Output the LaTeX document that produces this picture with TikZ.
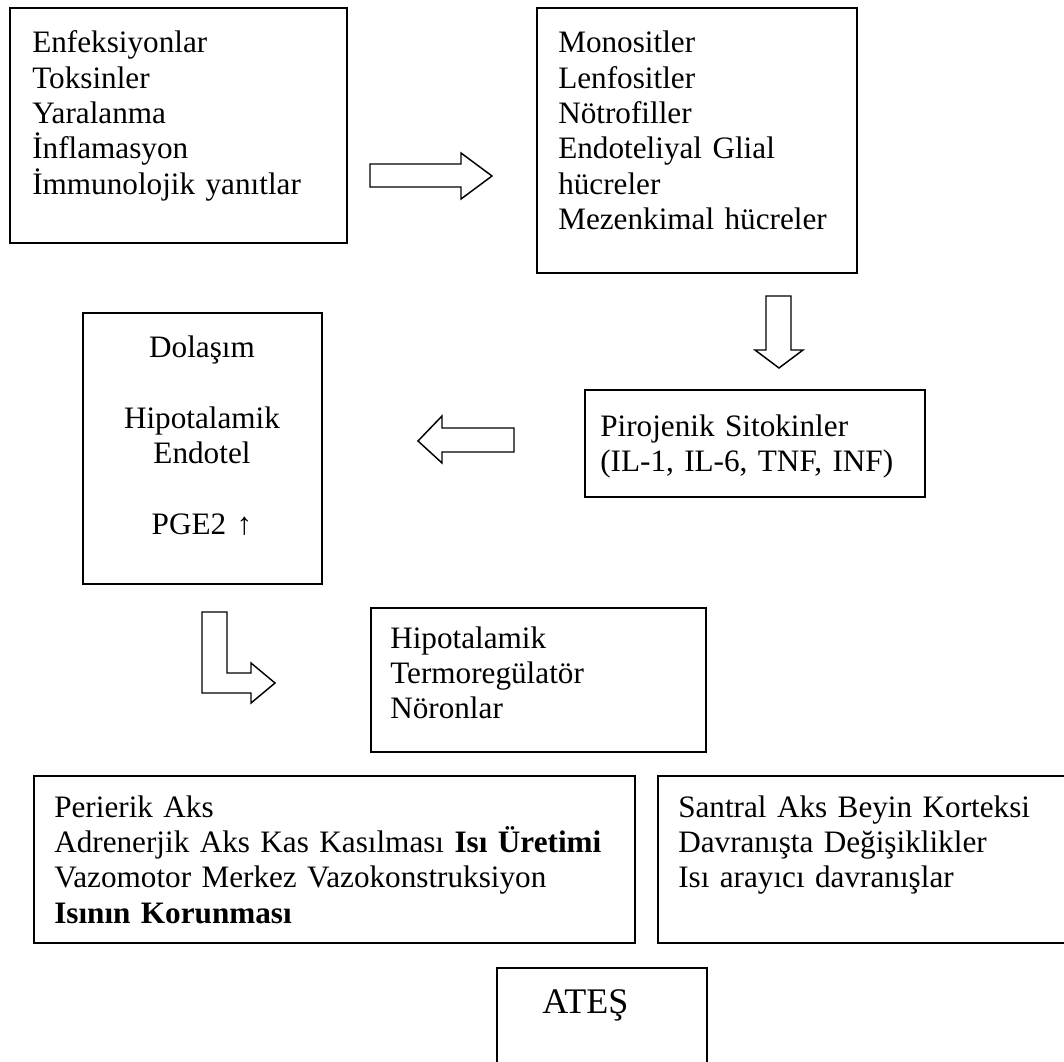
\documentclass[tikz,border=0pt]{standalone}
\usepackage{fontspec}
\setmainfont{Liberation Serif}
\usetikzlibrary{fit, calc}

\begin{document}
\begin{tikzpicture}[
      x=0.75pt, y=-0.75pt,
      box/.style={draw, line width=1.1pt, inner sep=0pt},
      txt/.style={inner sep=0pt, text width=#1, align=left,
                  font=\fontsize{23.4pt}{26.5pt}\selectfont},
      txt/.default=12cm,
      barrow/.style={draw, line width=1.1pt, line join=miter, fill=white}
    ]
    \useasboundingbox (0,0) rectangle (1064,1062);
    \clip (0,0) rectangle (1064,1062);

    % boxes
    \node[box, fit={(10,8) (347,243)}]     (causes)  {};
    \node[box, fit={(537,8) (857,273)}]    (cells)   {};
    \node[box, fit={(585,390) (925,497)}]  (cyto)    {};
    \node[box, fit={(83,313) (322,584)}]   (circ)    {};
    \node[box, fit={(371,608) (706,752)}]  (neuron)  {};
    \node[box, fit={(34,776) (635,943)}]   (periph)  {};
    \node[box, fit={(658,776) (1100,943)}] (central) {};
    \node[box, fit={(497,968) (707,1100)}] (fever)   {};

    % texts
    \node[txt, anchor=base west] (causes-t) at (32,53)
      {Enfeksiyonlar\\Toksinler\\Yaralanma\\İnflamasyon\\İmmunolojik yanıtlar};
    \node[txt, anchor=base west] (cells-t) at (558,53)
      {Monositler\\Lenfositler\\Nötrofiller\\Endoteliyal Glial\\hücreler\\Mezenkimal hücreler};
    \node[txt, anchor=base west] (cyto-t) at (600,436)
      {Pirojenik Sitokinler\\(IL-1, IL-6, TNF, INF)};
    \node[txt=6cm, anchor=base, align=center] (circ-t) at (202,358)
      {Dolaşım\\[26.5pt]Hipotalamik\\Endotel\\[26.5pt]PGE2 ↑};
    \node[txt, anchor=base west] (neuron-t) at (390,648)
      {Hipotalamik\\Termoregülatör\\Nöronlar};
    \node[txt=16cm, anchor=base west] (periph-t) at (54,817)
      {Perierik Aks\\Adrenerjik Aks Kas Kasılması \textbf{Isı Üretimi}\\Vazomotor Merkez Vazokonstruksiyon\\\textbf{Isının Korunması}};
    \node[txt, anchor=base west] (central-t) at (678,817)
      {Santral Aks Beyin Korteksi\\Davranışta Değişiklikler\\Isı arayıcı davranışlar};
    \node[inner sep=0pt, anchor=base west, font=\fontsize{27pt}{31pt}\selectfont]
      (fever-t) at (542,1013) {ATEŞ};

    % block arrows
    \draw[barrow] (370,164) -- (461,164) -- (461,153) -- (492,176)
      -- (461,199) -- (461,187) -- (370,187) -- cycle;
    \draw[barrow] (766,296) -- (791,296) -- (791,350) -- (803,350)
      -- (779,368) -- (755,350) -- (766,350) -- cycle;
    \draw[barrow] (514,428) -- (442,428) -- (442,416) -- (418,441)
      -- (442,463) -- (442,452) -- (514,452) -- cycle;
    \draw[barrow] (202,612) -- (227,612) -- (227,673) -- (251,673)
      -- (251,663) -- (275,683) -- (251,703) -- (251,693)
      -- (202,693) -- cycle;
\end{tikzpicture}
\end{document}
